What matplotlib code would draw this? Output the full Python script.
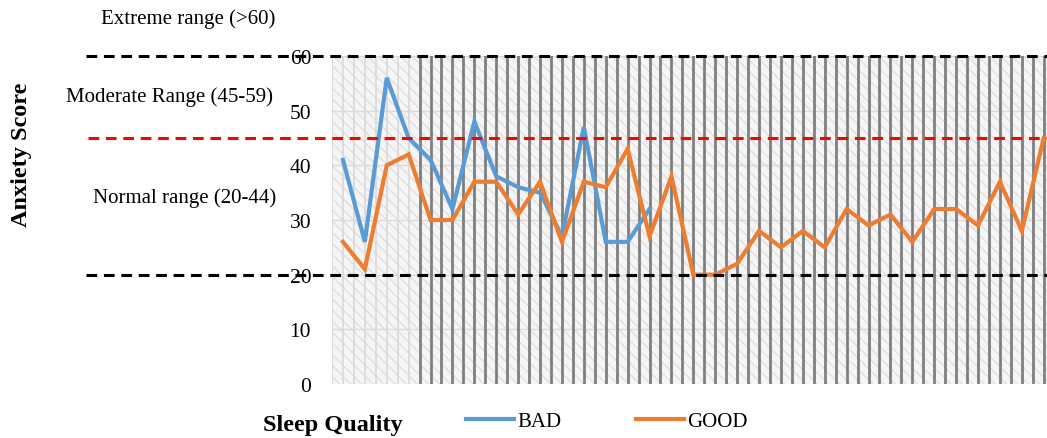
import matplotlib.pyplot as plt
import numpy as np
from matplotlib.patches import Rectangle
from matplotlib.transforms import blended_transform_factory

# Anxiety scores per respondent, split by sleep quality
bad_scores = [41, 26, 56, 45, 41, 32, 48, 38, 36, 35, 27, 47, 26, 26, 32]
good_scores = [26, 21, 40, 42, 30, 30, 37, 37, 31, 37, 26, 37, 36, 43, 27, 38,
               20, 20, 22, 28, 25, 28, 25, 32, 29, 31, 26, 32, 32, 29, 37, 28, 45]
y_ticks = [0, 10, 20, 30, 40, 50, 60]
range_lines = [60, 20]
moderate_line = 45
range_labels = ["Extreme range (>60)", "Moderate Range (45-59)", "Normal range (20-44)"]

plt.rcParams["font.family"] = ["Liberation Serif", "DejaVu Serif"]

fig = plt.figure(figsize=(10.47, 4.39), dpi=100)
ax = fig.add_axes([332 / 1047, 1 - 385 / 439, 1 - 332 / 1047, (385 - 57) / 439])

n = len(good_scores)
ax.set_xlim(-0.5, n - 0.85)
ax.set_ylim(0, 60)

# hatched light background
ax.add_patch(Rectangle((-0.5, 0), n + 1, 60, facecolor="#f5f5f5",
                       edgecolor="#e0e0e0", hatch="\\\\\\", lw=0, zorder=0))
for y in y_ticks[1:]:
    ax.axhline(y, color="#dadada", lw=1.0, zorder=1)
# vertical stripes (faint first, dark later)
for xv in np.arange(-0.5, n, 0.5):
    if xv < 3.5:
        ax.axvline(xv, color="#d9d9d9", lw=1.2, zorder=1)
    else:
        ax.axvline(xv, color="#7f7f7f", lw=2.0, zorder=1)

x_bad = np.arange(len(bad_scores))
x_good = np.arange(len(good_scores))
l1, = ax.plot(x_bad, bad_scores, color="#5b9bd5", lw=3.0, zorder=4,
              solid_joinstyle="miter", label="BAD")
l2, = ax.plot(x_good, good_scores, color="#ed7d31", lw=3.0, zorder=5,
              solid_joinstyle="miter", label="GOOD")

trans = blended_transform_factory(ax.transAxes, ax.transData)
x0 = (86 - 332) / 715
for yv in range_lines:
    ax.plot([x0, 1.0], [yv, yv], transform=trans, color="black", lw=2.2,
            ls=(0, (3.5, 2.2)), clip_on=False, zorder=6)
ax.plot([(88 - 332) / 715, 1.0], [moderate_line] * 2, transform=trans,
        color="#ff0000", lw=2.2, ls=(0, (3.5, 2.2)), clip_on=False, zorder=6)

ax.set_yticks(y_ticks)
ax.set_yticklabels([str(t) for t in y_ticks], fontsize=15.5)
ax.tick_params(axis="y", length=0, pad=15)
ax.set_xticks([])
for s in ax.spines.values():
    s.set_visible(False)

fig.text(188 / 1047, 1 - 19 / 439, range_labels[0], fontsize=15, ha="center", va="center")
fig.text(170 / 1047, 1 - 97 / 439, range_labels[1], fontsize=15, ha="center", va="center")
fig.text(185 / 1047, 1 - 198 / 439, range_labels[2], fontsize=15, ha="center", va="center")

fig.text(22 / 1047, 1 - 155 / 439, "Anxiety Score", fontsize=17.5, fontweight="bold",
         rotation=90, ha="center", va="center")
fig.text(333 / 1047, 1 - 426 / 439, "Sleep Quality", fontsize=17.5, fontweight="bold",
         ha="center", va="center")

fig.legend(handles=[l1, l2], loc="center", bbox_to_anchor=(607 / 1047, 1 - 422 / 439),
           ncol=2, frameon=False, fontsize=15, handlelength=2.3, handletextpad=0.15,
           columnspacing=3.6)

fig.savefig("out.png", dpi=100)
